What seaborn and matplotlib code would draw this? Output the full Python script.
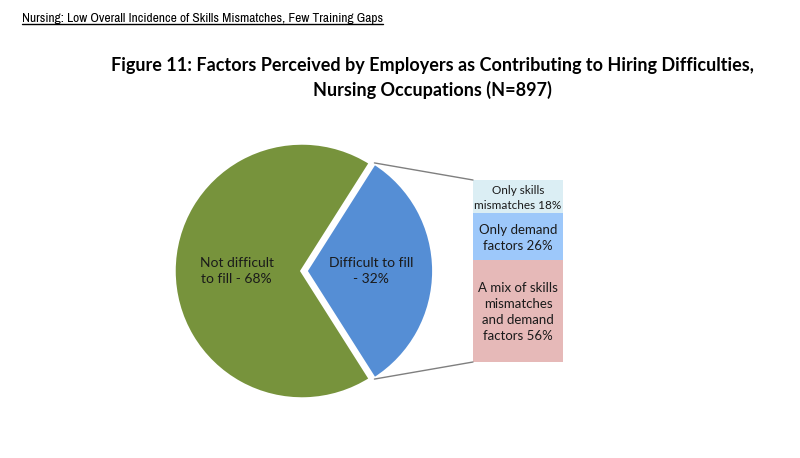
import numpy as np
import matplotlib
matplotlib.use("Agg")
import matplotlib.pyplot as plt
import seaborn as sns
from matplotlib.patches import ConnectionPatch
from matplotlib.lines import Line2D
from matplotlib import font_manager

# ---- data ----
pie_labels = ["Not difficult\nto fill - 68%", "Difficult to fill\n- 32%"]
pie_values = [68, 32]
bar_labels = ["Only skills\nmismatches 18%", "Only demand\nfactors 26%",
              "A mix of skills\nmismatches\nand demand\nfactors 56%"]
bar_values = [18, 26, 56]
heading = "Nursing: Low Overall Incidence of Skills Mismatches, Few Training Gaps"
title = ("Figure 11: Factors Perceived by Employers as Contributing to Hiring Difficulties,\n"
         "Nursing Occupations (N=897)")

pie_colors = ["#77933C", "#558ED5"]
bar_colors = ["#DBEEF4", "#9DC8FA", "#E6B9B8"]

sns.set_theme(style="white")
plt.rcParams["font.family"] = ["Lato", "DejaVu Sans"]

names = sorted({f.name for f in font_manager.fontManager.ttflist})
narrow = None
for n in names:
    if "Narrow" in n or "Condensed" in n:
        narrow = n
        break

W, H = 800, 458
fig = plt.figure(figsize=(W / 100, H / 100), dpi=100)

# pie axes: center (302,271) px, radius 128 px
cx, cy, r_px, half = 302, 271, 128, 150
ax_pie = fig.add_axes([(cx - half) / W, (H - cy - half) / H, 2 * half / W, 2 * half / H])
lim = half / r_px
start = 360 * pie_values[1] / 100 / 2
wedges, _ = ax_pie.pie(pie_values, colors=pie_colors, startangle=start,
                       explode=[0, 0.03], radius=1,
                       wedgeprops=dict(edgecolor="white", linewidth=2.5))
ax_pie.set_xlim(-lim, lim)
ax_pie.set_ylim(-lim, lim)
ax_pie.set_aspect("equal")
ax_pie.axis("off")

for w, lab in zip(wedges, pie_labels):
    ang = np.deg2rad((w.theta1 + w.theta2) / 2)
    x0, y0 = w.center
    d = 0.51
    ax_pie.text(x0 + d * np.cos(ang), y0 + d * np.sin(ang), lab, ha="center",
                va="center", fontsize=10, color="#1a1a1a", linespacing=1.35)

# stacked bar axes: x 473-563, y 180-362 px
bx0, bx1, by0, by1 = 473, 563, 180, 362
ax_bar = fig.add_axes([bx0 / W, (H - by1) / H, (bx1 - bx0) / W, (by1 - by0) / H])
bottom = 0
for v, c, lab in zip(bar_values, bar_colors, bar_labels):
    ax_bar.bar(0, v, bottom=bottom, width=1, color=c, edgecolor="none")
    ax_bar.text(0, bottom + v / 2 + 0.8, lab, ha="center", va="center",
                fontsize=9.5 if v > 20 else 8.5, color="#1a1a1a", linespacing=1.4)
    bottom += v
ax_bar.set_xlim(-0.5, 0.5)
ax_bar.set_ylim(100, 0)
ax_bar.axis("off")

# connector lines from exploded wedge to bar
bw = wedges[1]
bxc, byc = bw.center
for theta, ybar in [(bw.theta2, 0), (bw.theta1, 100)]:
    t = np.deg2rad(theta)
    p = (bxc + bw.r * np.cos(t), byc + bw.r * np.sin(t))
    con = ConnectionPatch(xyA=p, coordsA=ax_pie.transData, xyB=(-0.5, ybar),
                          coordsB=ax_bar.transData, color="#7f7f7f", lw=1)
    fig.add_artist(con)

# heading (underlined)
fam = [narrow, "Lato", "DejaVu Sans"] if narrow else ["Lato", "DejaVu Sans"]
ht = fig.text(22 / W, 1 - 18 / H, heading, ha="left", va="center",
              fontsize=12, color="black", family=fam)
fig.text(432 / W, 1 - 78 / H, title, ha="center", va="center", fontsize=13,
         fontweight="bold", linespacing=1.4, color="black")

fig.canvas.draw()
rend = fig.canvas.get_renderer()
if narrow:
    wpx = ht.get_window_extent(renderer=rend).width
    ht.set_fontsize(12 * 358 / wpx)
else:
    ht.set_fontsize(9.5)
fig.canvas.draw()
bb = ht.get_window_extent(renderer=rend).transformed(fig.transFigure.inverted())
fig.add_artist(Line2D([bb.x0, bb.x1], [bb.y0 - 0.002, bb.y0 - 0.002],
                      transform=fig.transFigure, color="black", lw=1))

fig.savefig("out.png", dpi=100)
